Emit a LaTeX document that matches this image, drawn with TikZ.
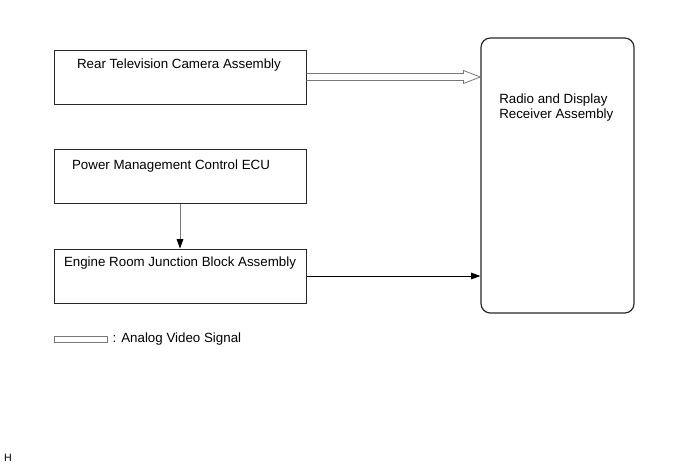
\documentclass[tikz,border=0pt]{standalone}
\usepackage{fontspec}
\setmainfont{Liberation Sans}
\usetikzlibrary{arrows.meta, positioning, calc}
\definecolor{cline}{RGB}{40, 40, 40}
\definecolor{cgray}{RGB}{120, 120, 120}

\begin{document}
\begin{tikzpicture}[
  x=0.75pt, y=-0.75pt,
  font=\fontsize{10}{11.25}\selectfont,
  box/.style={rectangle, draw=cline, line width=0.75pt, minimum width=189pt, minimum height=40.5pt, inner sep=0pt},
  title/.style={inner sep=0pt, anchor=center},
  arrow/.style={-{Triangle[length=7pt, width=5pt, color=black]}, line width=0.6pt},
  sig/.style={draw=cgray, line width=0.6pt, line join=miter},
]
\useasboundingbox (0,0) rectangle (691,465);

% ---- Left column ----
\node[box] (cam) at (180,77) {};
\node[title] (camtxt) at (179,65) {Rear Television Camera Assembly};

\node[box] (pmecu) at (180,176) {};
\node[title] (pmecutxt) at (171,166) {Power Management Control ECU};

\node[box] (erjb) at (180,276) {};
\node[title] (erjbtxt) at (180,263) {Engine Room Junction Block Assembly};

% ---- Receiver (right side) ----
\node[rectangle, draw=cline, line width=0.9pt, rounded corners=7pt,
  minimum width=114.75pt, minimum height=206.25pt] (radio) at (557.5,175.5) {};
\node[inner sep=0pt, anchor=west, align=left] (radiotxt) at (499,107.5)
  {Radio and Display\\Receiver Assembly};

% ---- Arrows ----
\draw[arrow, color=cgray] (pmecu.south) -- (erjb.north);
\draw[arrow] (erjb.east) -- (erjb.east -| radio.west);

% analog video (outline arrow)
\draw[sig] ($(cam.east)+(0,-3.5)$) -- ($(radio.west |- cam.east)+(-17,-3.5)$) -- ++(0,-3)
  -- (radio.west |- cam.east) -- ($(radio.west |- cam.east)+(-17,6.5)$) -- ++(0,-3)
  -- ($(cam.east)+(0,3.5)$);

% ---- Legend ----
\node[rectangle, draw=cgray, line width=0.6pt, minimum width=39.75pt, minimum height=4.5pt, inner sep=0pt] (legbar) at (80.5,339) {};
\node[inner sep=0pt, anchor=west] (legtxt) at ($(legbar.east)+(5,0)$) {: Analog Video Signal};

\node[inner sep=0pt, font=\fontsize{8}{9}\selectfont] (hmark) at (8,458) {H};

\end{tikzpicture}
\end{document}
